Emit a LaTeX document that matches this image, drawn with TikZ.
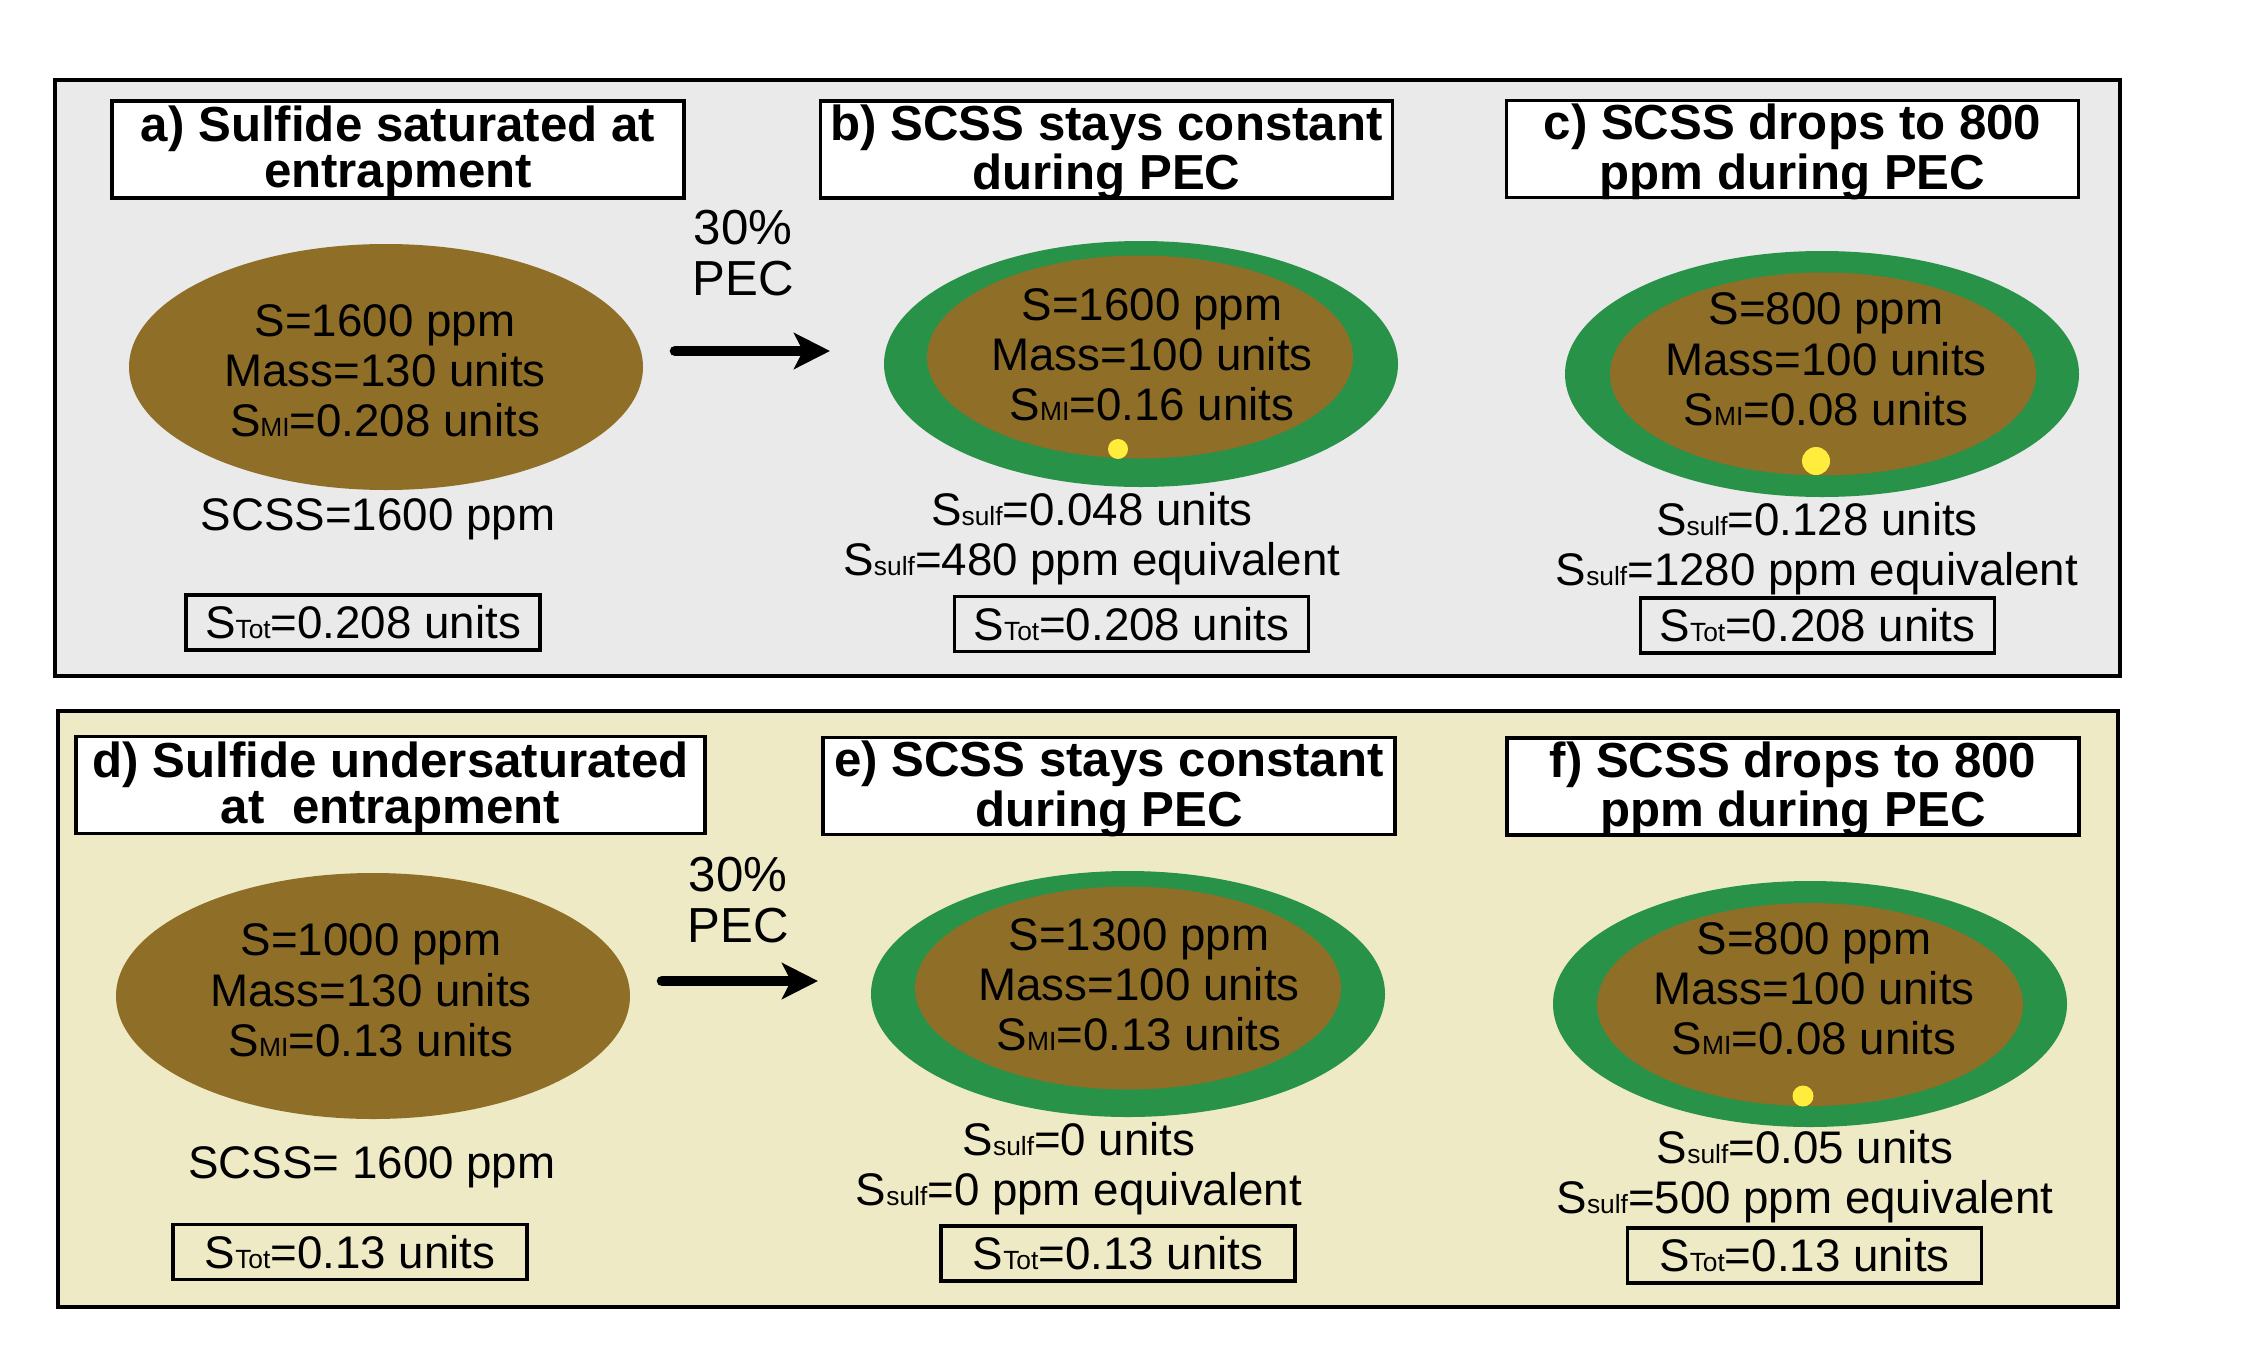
\documentclass[tikz,border=0pt]{standalone}
\usepackage{fontspec}
\setmainfont{Liberation Sans}
\usetikzlibrary{arrows.meta,shapes.geometric}

\definecolor{panelgray}{RGB}{234,234,234}
\definecolor{panelcream}{RGB}{239,234,198}
\definecolor{melt}{RGB}{143,110,39}
\definecolor{host}{RGB}{39,146,72}
\definecolor{sulf}{RGB}{255,236,60}

\newcommand{\lo}[1]{{\fontsize{7.5}{7.5}\selectfont #1}}

\begin{document}
\begin{tikzpicture}[x=0.1mm, y=-0.1mm,
    font=\fontsize{13}{14.3}\selectfont,
    panel/.style={draw, line width=1.2pt},
    title/.style={draw, fill=white, line width=1pt, align=center, inner sep=0pt, minimum width=57.2mm, minimum height=9.7mm, text depth=0.5mm, font=\fontsize{14}{13}\selectfont\bfseries},
    total/.style={draw, line width=1pt, inner sep=0pt, minimum width=35.4mm, minimum height=5.5mm},
    incl/.style={ellipse, fill=melt, inner sep=0pt, minimum width=51.4mm, minimum height=24.6mm},
    rim/.style={ellipse, fill=host, inner sep=0pt, minimum width=51.4mm, minimum height=24.6mm},
    core/.style={ellipse, fill=melt, inner sep=0pt, minimum width=42.6mm, minimum height=20.3mm},
    body/.style={align=center, inner sep=0pt},
    bleb/.style={circle, fill=sulf, inner sep=0pt},
    pec/.style={align=center, inner sep=0pt, font=\fontsize{14}{14.4}\selectfont},
    arrow/.style={-{Stealth[length=3.6mm, width=3.6mm, inset=0.9mm]}, line width=3pt, line cap=round}
  ]
    \useasboundingbox (0,0) rectangle (2264,1367);

    % saturated case
    \draw[panel, fill=panelgray] (55,80) rectangle (2120,676);
    \node[title] (ta) at (398,149.5) {a) Sulfide saturated at\\entrapment};
    \node[title] (tb) at (1106.5,149.5) {b) SCSS stays constant\\during PEC};
    \node[title] (tc) at (1792.5,149) {c) SCSS drops to 800\\ppm during PEC};

    \node[incl] (ia) at (386,367) {};
    \node[body] (ma) at (385,371) {S=1600 ppm\\Mass=130 units\\S\lo{MI}=0.208 units};
    \node[body] (sa) at (378,519) {SCSS=1600 ppm};
    \node[total] (xa) at (363,622.5) {S\lo{Tot}=0.208 units};

    \node[pec] (pa) at (743,253) {30\%\\PEC};
    \coordinate (a0) at (675,351);
    \coordinate (a1) at (830,351);
    \draw[arrow] (a0) -- (a1);

    \node[rim] (rb) at (1141,364) {};
    \node[core] (ib) at (1140,357) {};
    \node[body] (mb) at (1152,355) {S=1600 ppm\\Mass=100 units\\S\lo{MI}=0.16 units};
    \node[bleb, minimum size=2mm] (db) at (1118,449) {};
    \node[body] (sb) at (1092,539) {S\lo{sulf}=0.048 units\\S\lo{sulf}=480 ppm equivalent};
    \node[total] (xb) at (1131.5,624) {S\lo{Tot}=0.208 units};

    \node[rim] (rc) at (1822,374) {};
    \node[core] (ic) at (1823,374) {};
    \node[body] (mc) at (1826,359.5) {S=800 ppm\\Mass=100 units\\S\lo{MI}=0.08 units};
    \node[bleb, minimum size=2.8mm] (dc) at (1816,461) {};
    \node[body] (sc) at (1817,549) {S\lo{sulf}=0.128 units\\S\lo{sulf}=1280 ppm equivalent};
    \node[total] (xc) at (1817.5,625.5) {S\lo{Tot}=0.208 units};

    % undersaturated case
    \draw[panel, fill=panelcream] (58,711) rectangle (2118,1307);
    \node[title, minimum width=62.9mm] (td) at (390.5,785) {d) Sulfide undersaturated\\at\ \ entrapment};
    \node[title] (te) at (1109,786) {e) SCSS stays constant\\during PEC};
    \node[title] (tf) at (1793,786.5) {f) SCSS drops to 800\\ppm during PEC};

    \node[incl] (id) at (373,996) {};
    \node[body] (md) at (371,990.5) {S=1000 ppm\\Mass=130 units\\S\lo{MI}=0.13 units};
    \node[body] (sd) at (372,1167) {SCSS= 1600 ppm};
    \node[total] (xd) at (350,1252) {S\lo{Tot}=0.13 units};

    \node[pec] (pd) at (738,900) {30\%\\PEC};
    \coordinate (d0) at (662,981);
    \coordinate (d1) at (818,981);
    \draw[arrow] (d0) -- (d1);

    \node[rim] (re) at (1128,994) {};
    \node[core] (ie) at (1128,988) {};
    \node[body] (me) at (1139,985) {S=1300 ppm\\Mass=100 units\\S\lo{MI}=0.13 units};
    \node[body] (se) at (1079,1169) {S\lo{sulf}=0 units\\S\lo{sulf}=0 ppm equivalent};
    \node[total] (xe) at (1118,1253.5) {S\lo{Tot}=0.13 units};

    \node[rim] (rf) at (1810,1004) {};
    \node[core] (if) at (1810,1004.5) {};
    \node[body] (mf) at (1814,989) {S=800 ppm\\Mass=100 units\\S\lo{MI}=0.08 units};
    \node[bleb, minimum size=2.1mm] (df) at (1803,1096) {};
    \node[body] (sf) at (1805,1177) {S\lo{sulf}=0.05 units\\S\lo{sulf}=500 ppm equivalent};
    \node[total] (xf) at (1804.5,1255.5) {S\lo{Tot}=0.13 units};
  \end{tikzpicture}
\end{document}
